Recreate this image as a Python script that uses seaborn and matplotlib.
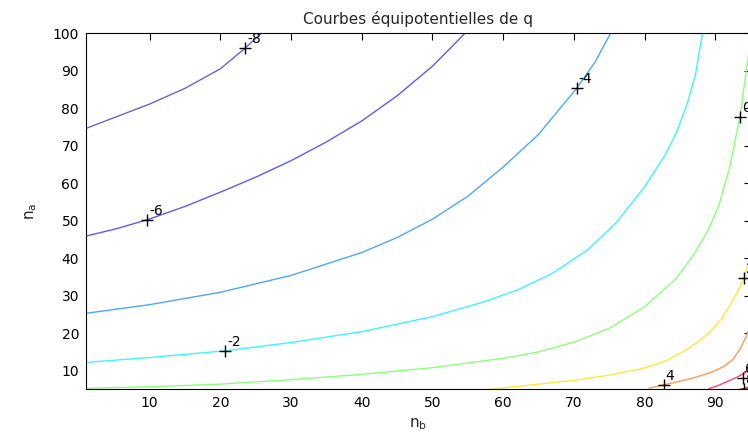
import numpy as np
import pandas as pd
import matplotlib
matplotlib.use("Agg")
import matplotlib.pyplot as plt
import seaborn as sns

# ---- data (contour lines of q over nb, na) ----
levels = [-8, -6, -4, -2, 0, 2, 4, 6, 8]
line_colors = ['#6666cc', '#5c5cf5', '#4da6ff', '#3cf5ff', '#8cff7a',
               '#ffe838', '#ff9a55', '#ff4466', '#cc2233']

nb_m8 = [1.0, 5.0, 10.0, 15.0, 20.0, 23.5, 25.8]
na_m8 = [74.6, 77.5, 81.1, 85.3, 90.5, 96.0, 100.0]

nb_m6 = [1.0, 5.0, 9.6, 15.0, 20.0, 25.0, 30.0, 35.0, 40.0, 45.0, 50.0, 53.0, 54.6]
na_m6 = [45.9, 47.7, 50.2, 53.8, 57.6, 61.6, 66.0, 71.0, 76.6, 83.3, 91.2, 96.9, 100.0]

nb_m4 = [1.0, 10.0, 20.0, 30.0, 40.0, 45.0, 50.0, 55.0, 60.0, 65.0, 70.4, 73.0, 75.2]
na_m4 = [25.3, 27.6, 30.9, 35.4, 41.5, 45.5, 50.4, 56.5, 64.3, 73.0, 85.3, 92.3, 100.0]

nb_m2 = [1.0, 10.0, 20.7, 30.0, 40.0, 50.0, 57.0, 62.0, 67.0, 72.0, 76.0, 80.0, 83.0,
         84.5, 86.0, 87.2, 88.2]
na_m2 = [12.2, 13.5, 15.3, 17.5, 20.4, 24.4, 28.2, 31.5, 36.0, 42.3, 49.5, 59.0, 67.8,
         73.5, 81.0, 89.0, 100.0]

nb_0 = [1.0, 10.0, 20.0, 30.0, 40.0, 50.0, 60.0, 65.0, 70.0, 75.0, 80.0, 84.5, 87.0,
        89.0, 90.5, 92.0, 93.5, 94.6, 95.1]
na_0 = [5.3, 5.7, 6.4, 7.6, 9.0, 10.8, 13.3, 15.0, 17.6, 21.3, 27.0, 34.6, 41.0,
        47.5, 54.0, 64.0, 77.7, 92.9, 100.0]

nb_2 = [57.9, 61.0, 65.0, 70.4, 75.0, 79.8, 83.0, 85.5, 87.5, 89.3, 90.8, 92.1, 93.2, 94.0, 95.0]
na_2 = [5.0, 5.6, 6.4, 7.5, 8.8, 10.6, 12.6, 15.1, 17.6, 20.4, 23.6, 27.5, 31.2, 34.6, 40.0]

nb_4 = [80.6, 82.7, 85.0, 87.0, 89.5, 91.2, 92.5, 93.5, 94.3, 95.0]
na_4 = [5.3, 6.2, 7.2, 8.1, 9.6, 11.1, 13.0, 15.8, 18.8, 22.2]

nb_6 = [89.1, 90.5, 91.7, 93.0, 94.0, 94.6, 95.5]
na_6 = [5.2, 6.1, 7.1, 8.2, 9.2, 9.9, 11.2]

nb_8 = [93.6, 95.5]
na_8 = [5.0, 6.0]

curves_nb = [nb_m8, nb_m6, nb_m4, nb_m2, nb_0, nb_2, nb_4, nb_6, nb_8]
curves_na = [na_m8, na_m6, na_m4, na_m2, na_0, na_2, na_4, na_6, na_8]

label_nb = [23.5, 9.6, 70.4, 20.7, 93.5, 94.0, 82.7, 93.9, 94.0]
label_na = [96.0, 50.2, 85.3, 15.3, 77.7, 34.6, 6.2, 8.0, 5.2]
label_txt = ['-8', '-6', '-4', '-2', '0', '2', '4', '6', '8']

x_ticks = [10, 20, 30, 40, 50, 60, 70, 80, 90]
y_ticks = [10, 20, 30, 40, 50, 60, 70, 80, 90, 100]

title = "Courbes équipotentielles de q"

# ---- plotting ----
sns.set_style("white")
plt.rcParams['font.family'] = ['DejaVu Sans']
plt.rcParams['mathtext.default'] = 'regular'

W, H = 748, 432
fig = plt.figure(figsize=(W / 100, H / 100), dpi=100)
left_px, right_px, top_px, bot_px = 86.0, 750.6, 33.2, 389.4
ax = fig.add_axes([left_px / W, (H - bot_px) / H,
                   (right_px - left_px) / W, (bot_px - top_px) / H])

frames = []
for lvl, xs, ys in zip(levels, curves_nb, curves_na):
    frames.append(pd.DataFrame({'nb': xs, 'na': ys, 'q': str(lvl)}))
df = pd.concat(frames, ignore_index=True)
pal = {str(l): c for l, c in zip(levels, line_colors)}

sns.lineplot(data=df, x='nb', y='na', hue='q', palette=pal, sort=False,
             estimator=None, legend=False, ax=ax, linewidth=1.0)

lab = pd.DataFrame({'nb': label_nb, 'na': label_na})
sns.scatterplot(data=lab, x='nb', y='na', marker='+', color='black',
                s=70, linewidth=1.0, ax=ax, zorder=5)
for x, y, t in zip(label_nb, label_na, label_txt):
    ax.annotate(t, (x, y), xytext=(1.5, 1.5), textcoords='offset points',
                ha='left', va='bottom', fontsize=10, color='black',
                annotation_clip=False, clip_on=True)

ax.set_xlim(1, 95)
ax.set_ylim(5, 100)
ax.set_xticks(x_ticks)
ax.set_yticks(y_ticks)
ax.tick_params(direction='in', length=5, width=0.8, top=True, right=True,
               labelsize=10, pad=5, colors='black')
for s in ax.spines.values():
    s.set_visible(True)
    s.set_color('black')
    s.set_linewidth(0.8)

ax.set_xlabel(r'$n_b$', fontsize=11, labelpad=4)
ax.set_ylabel(r'$n_a$', fontsize=11, labelpad=10)
ax.set_title(title, fontsize=11, pad=6.5)

fig.savefig('out.png', dpi=100)
